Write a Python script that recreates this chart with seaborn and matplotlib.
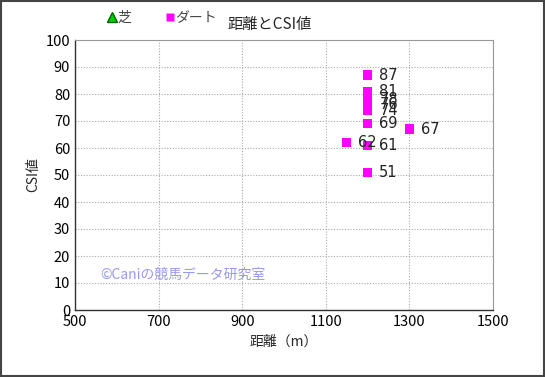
import matplotlib
matplotlib.use('Agg')
import matplotlib.pyplot as plt
import seaborn as sns
import pandas as pd
from matplotlib.lines import Line2D

sns.set_style('white')
plt.rcParams['font.family'] = ['Noto Sans CJK JP', 'DejaVu Sans']

# データ
distance = [1200, 1200, 1200, 1200, 1200, 1200, 1150, 1200, 1300, 1200]
csi = [87, 81, 78, 76, 74, 69, 62, 61, 67, 51]
course = ['ダート'] * len(csi)
xticks = [500, 700, 900, 1100, 1300, 1500]
yticks = list(range(0, 101, 10))

df = pd.DataFrame({'距離': distance, 'CSI値': csi, 'コース': course})

fig = plt.figure(figsize=(5.45, 3.77), dpi=100)
ax = fig.add_axes([75 / 545, 1 - 310 / 377, 418 / 545, 270 / 377])

sns.scatterplot(data=df, x='距離', y='CSI値', hue='コース', palette={'ダート': '#ff00ff'},
                marker='s', s=45, edgecolor='none', legend=False, ax=ax, zorder=3)

for x, y in zip(distance, csi):
    ax.text(x + 28, y, str(y), fontsize=10.5, va='center', ha='left', color='#222222',
            family=['DejaVu Sans'], zorder=4)

ax.set_xlim(500, 1500)
ax.set_ylim(0, 100)
ax.set_xticks(xticks)
ax.set_yticks(yticks)
ax.tick_params(labelsize=10.5, length=3, direction='in', colors='black')
ax.grid(True, color='#aaaaaa', linestyle=(0, (1, 1.5)), linewidth=0.8)
for s in ['top', 'right']:
    ax.spines[s].set_color('#999999')
    ax.spines[s].set_linewidth(0.8)
for s in ['left', 'bottom']:
    ax.spines[s].set_color('#333333')
    ax.spines[s].set_linewidth(1.0)
ax.set_xlabel('距離（m）', fontsize=10)
ax.set_ylabel('CSI値', fontsize=10)

ax.text(560, 13, '©Caniの競馬データ研究室', fontsize=10, color='#9999ee', va='center', ha='left')

fig.text(270 / 545, 1 - 25 / 377, '距離とCSI値', fontsize=11, ha='center', va='center')

handles = [Line2D([], [], marker='^', color='none', markerfacecolor='#00cc00', markeredgecolor='#006600',
                  markersize=7, label='芝'),
           Line2D([], [], marker='s', color='none', markerfacecolor='#ff00ff', markeredgecolor='none',
                  markersize=6, label='ダート')]
fig.legend(handles=handles, loc='center left', bbox_to_anchor=(95 / 545, 1 - 18 / 377), ncol=2,
           frameon=False, fontsize=10, handlelength=0.6, handletextpad=0.1, columnspacing=2.5,
           labelcolor='#444444')

# 外枠
fig.patches.append(plt.Rectangle((0.002, 0.003), 0.996, 0.994, transform=fig.transFigure,
                                 fill=False, edgecolor='#444444', linewidth=1.5))

plt.savefig('out.png', dpi=100)
plt.close()
